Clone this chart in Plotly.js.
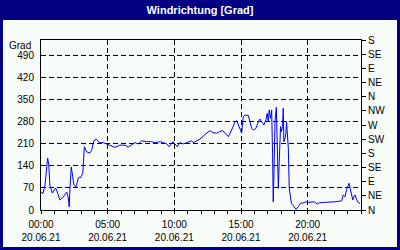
<!DOCTYPE html>
<html>
<head>
<meta charset="utf-8">
<script src="https://cdn.plot.ly/plotly-3.0.1.min.js"></script>
<style>html,body{margin:0;padding:0;background:#f8fcf8;}#chart{width:400px;height:250px;}</style>
</head>
<body>
<div id="chart"></div>
<script>
// Data (time of day on 20.06.21, wind direction in degrees)
const times = ["00:00","00:08","00:18","00:26","00:30","00:35","00:40","00:51","01:00","01:06","01:15","01:25","01:40","01:56","02:03","02:07","02:10","02:16","02:23","02:28","02:37","02:48","02:55","02:58","03:08","03:10","03:15","03:25","03:40","03:48","03:58","04:10","04:22","04:40","04:56","05:18","05:33","05:55","06:18","06:33","06:48","07:03","07:18","07:33","07:56","08:18","08:33","08:56","09:10","09:26","09:37","09:53","10:03","10:13","10:25","10:40","10:56","11:18","11:25","11:40","11:55","12:10","12:26","12:40","12:53","13:10","13:25","13:38","13:48","14:03","14:18","14:33","14:41","14:48","14:55","15:03","15:10","15:18","15:33","15:40","15:48","15:55","16:07","16:18","16:25","16:38","16:43","16:52","16:58","17:03","17:07","17:13","17:18","17:22","17:25","17:28","17:33","17:39","17:44","17:48","17:52","17:58","18:02","18:07","18:10","18:13","18:18","18:22","18:25","18:33","18:37","18:43","18:47","18:55","19:08","19:18","19:28","19:40","19:52","20:03","20:18","20:30","20:43","20:52","21:10","21:40","22:03","22:33","22:40","22:48","22:55","23:06","23:10","23:15","23:23","23:28","23:33","23:41","23:48","23:56"];
const direction = [58,51,79,127,165,143,79,54,64,70,54,32,41,57,38,10,64,137,105,79,73,102,105,102,117,149,201,185,181,190,220,225,214,214,210,203,199,206,206,200,206,214,210,220,217,217,214,217,214,210,201,217,210,201,214,210,214,220,214,220,225,235,244,252,246,244,249,252,244,233,254,280,284,270,255,244,296,302,300,281,259,254,259,280,289,275,270,286,307,280,318,291,318,180,26,102,281,326,206,69,154,265,249,265,323,217,228,244,281,196,69,26,20,14,2,11,21,23,26,24,26,26,19,23,24,24,26,29,48,42,64,85,74,58,32,42,48,32,23,21];
const leftTicks = [0,70,140,210,280,350,420,490];
const compassVals = [0,45,90,135,180,225,270,315,360,405,450,495,540];
const compassText = ["N","NE","E","SE","S","SW","W","NW","N","NE","E","SE","S"];
const day = "2021-06-20";

const xs = times.map(t => day + " " + t);
const font = {family: "Liberation Sans, Arial, sans-serif", size: 10, color: "#000"};
const bg = "#f8fcf8";
const navy = "#000080";

// pixel -> paper helpers (plot area: x 41..361, y 40..210)
const px = p => (p - 41) / 320;
const py = p => (210 - p) / 170;

const trace = {
  x: xs, y: direction, type: "scatter", mode: "lines",
  line: {color: "#0000ff", width: 1}, hoverinfo: "skip"
};
const trace2 = {x: [xs[0]], y: [0], yaxis: "y2", mode: "markers", marker: {opacity: 0}, hoverinfo: "skip", showlegend: false};

const layout = {
  width: 400, height: 250,
  margin: {l: 41, r: 39, t: 40, b: 40, pad: 0},
  paper_bgcolor: bg, plot_bgcolor: bg,
  showlegend: false,
  font: font,
  title: {text: "<b>Windrichtung [Grad]</b>", x: 0.5, xanchor: "center", y: 1 - 10/250, yanchor: "middle",
          font: {family: "Liberation Sans, Arial, sans-serif", size: 11, color: "#ffffff"}},
  xaxis: {
    type: "date",
    range: [day + " 00:00", "2021-06-21 00:00"],
    tick0: day + " 00:00", dtick: 5 * 3600000,
    tickformat: "%H:%M<br>%d.%m.%y",
    ticks: "outside", ticklen: 3, tickcolor: "#000",
    ticklabelstandoff: 2,
    showgrid: true, gridcolor: "#000", gridwidth: 1, griddash: "5px,3px",
    showline: true, linecolor: "#000", linewidth: 1, mirror: true,
    zeroline: false, tickfont: font, fixedrange: true,
    minor: {dtick: 3600000, ticks: "outside", ticklen: 3, tickcolor: "#000", showgrid: false}
  },
  yaxis: {
    range: [0, 540], tickvals: leftTicks, ticktext: leftTicks.map(String),
    ticks: "outside", ticklen: 4, tickcolor: "rgba(0,0,0,0)",
    showgrid: true, gridcolor: "#000", gridwidth: 1, griddash: "5px,3px",
    showline: true, linecolor: "#000", linewidth: 1, mirror: true,
    zeroline: false, tickfont: font, fixedrange: true
  },
  yaxis2: {
    overlaying: "y", side: "right", range: [0, 540],
    tickvals: compassVals, ticktext: compassText,
    ticks: "outside", ticklen: 4, tickcolor: "#000",
    showgrid: false, zeroline: false, showline: true, linecolor: "#000",
    tickfont: font, fixedrange: true
  },
  shapes: [
    {type: "rect", xref: "paper", yref: "paper", x0: px(0), x1: px(400), y0: py(20), y1: py(0),
     fillcolor: navy, line: {width: 0}, layer: "below"},
    {type: "rect", xref: "paper", yref: "paper", x0: px(1.5), x1: px(398.5), y0: py(248.5), y1: py(1.5),
     fillcolor: "rgba(0,0,0,0)", line: {color: navy, width: 3}, layer: "below"}
  ],
  annotations: [
    {text: "Grad", xref: "paper", yref: "paper", x: px(33), y: py(45), xanchor: "right", yanchor: "middle",
     showarrow: false, font: font}
  ]
};

Plotly.newPlot("chart", [trace, trace2], layout, {staticPlot: true, displayModeBar: false});
</script>
</body>
</html>
